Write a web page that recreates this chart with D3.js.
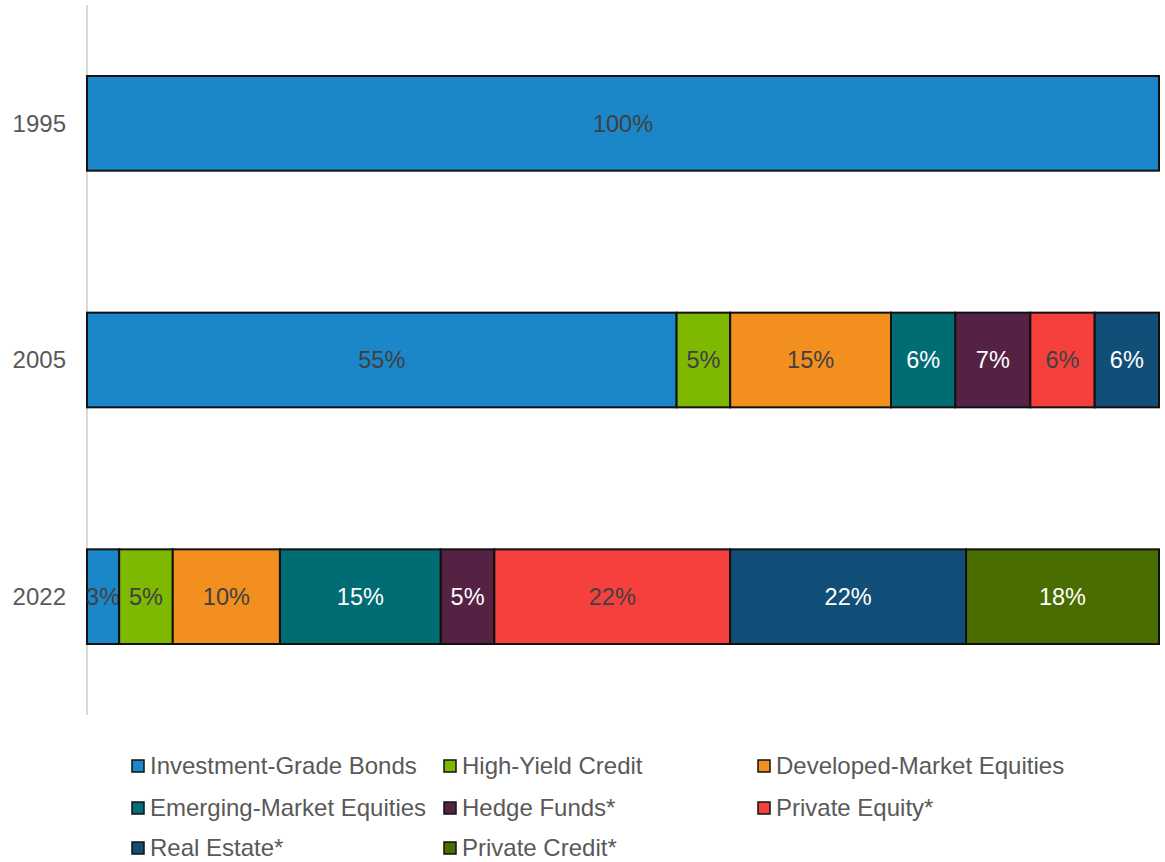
<!DOCTYPE html>
<html>
<head>
<meta charset="utf-8">
<script src="https://cdn.jsdelivr.net/npm/d3@7"></script>
<style>
  body { margin: 0; background: #fff; }
  svg { font-family: "Liberation Sans", Arial, sans-serif; }
</style>
</head>
<body>
<svg id="chart" width="1165" height="862"></svg>
<script>
// categories and series
var years = ["1995", "2005", "2022"];
var assetClasses = ["Investment-Grade Bonds", "High-Yield Credit", "Developed-Market Equities",
                    "Emerging-Market Equities", "Hedge Funds*", "Private Equity*",
                    "Real Estate*", "Private Credit*"];
var alloc1995 = [100, 0, 0, 0, 0, 0, 0, 0];
var alloc2005 = [55, 5, 15, 6, 7, 6, 6, 0];
var alloc2022 = [3, 5, 10, 15, 5, 22, 22, 18];
var xTicks = [0, 100];

var fills = ["#1b87c9", "#7fb800", "#f28f1f", "#006d75", "#552244", "#f5403d", "#124f78", "#4a6d00"];
var labelColors = ["#404040", "#404040", "#404040", "#ffffff", "#ffffff", "#404040", "#ffffff", "#ffffff"];

var svg = d3.select("#chart"),
    margin = {top: 5, right: 6, bottom: 147, left: 87},
    width = +svg.attr("width"),
    height = +svg.attr("height");

var x = d3.scaleLinear().domain(d3.extent(xTicks)).range([margin.left, width - margin.right]);
var y = d3.scaleBand().domain(years).range([margin.top, height - margin.bottom])
    .paddingInner(0.6).paddingOuter(0.3);

// build rows for stacking
var rows = [alloc1995, alloc2005, alloc2022].map(function(vals, i) {
  var r = {year: years[i]};
  assetClasses.forEach(function(k, j) { r[k] = vals[j]; });
  return r;
});
var stacked = d3.stack().keys(assetClasses)(rows);

// vertical axis line
svg.append("line")
    .attr("x1", x(0)).attr("x2", x(0))
    .attr("y1", margin.top).attr("y2", height - margin.bottom)
    .attr("stroke", "#d9d9d9").attr("stroke-width", 2);

// year labels
svg.append("g").selectAll("text")
    .data(years)
  .enter().append("text")
    .attr("x", margin.left - 21)
    .attr("y", function(d) { return y(d) + y.bandwidth() / 2; })
    .attr("dy", "0.35em")
    .attr("text-anchor", "end")
    .attr("fill", "#595959")
    .attr("font-size", "24px")
    .text(function(d) { return d; });

// bars
var series = svg.append("g").selectAll("g")
    .data(stacked)
  .enter().append("g");

series.selectAll("rect")
    .data(function(s, i) { return s.map(function(p) { return {p: p, i: i}; }); })
  .enter().filter(function(d) { return d.p[1] - d.p[0] > 0; }).append("rect")
    .attr("x", function(d) { return x(d.p[0]); })
    .attr("y", function(d) { return y(d.p.data.year); })
    .attr("width", function(d) { return x(d.p[1]) - x(d.p[0]); })
    .attr("height", y.bandwidth())
    .attr("fill", function(d) { return fills[d.i]; })
    .attr("stroke", "#111")
    .attr("stroke-width", 2);

series.selectAll("text")
    .data(function(s, i) { return s.map(function(p) { return {p: p, i: i}; }); })
  .enter().filter(function(d) { return d.p[1] - d.p[0] > 0; }).append("text")
    .attr("x", function(d) { return (x(d.p[0]) + x(d.p[1])) / 2; })
    .attr("y", function(d) { return y(d.p.data.year) + y.bandwidth() / 2; })
    .attr("dy", "0.35em")
    .attr("text-anchor", "middle")
    .attr("font-size", "23.5px")
    .attr("fill", function(d) { return labelColors[d.i]; })
    .text(function(d) { return (d.p[1] - d.p[0]) + "%"; });

// legend, 3 columns
var colX = [132, 444, 758], rowY = [766, 808, 848];
var legend = svg.append("g").selectAll("g")
    .data(assetClasses)
  .enter().append("g")
    .attr("transform", function(d, i) {
      return "translate(" + colX[i % 3] + "," + rowY[Math.floor(i / 3)] + ")";
    });

legend.append("rect")
    .attr("x", 0).attr("y", -6)
    .attr("width", 12).attr("height", 12)
    .attr("fill", function(d, i) { return fills[i]; })
    .attr("stroke", "#111").attr("stroke-width", 1.5);

legend.append("text")
    .attr("x", 18)
    .attr("dy", "0.35em")
    .attr("font-size", "24px")
    .attr("fill", "#595959")
    .text(function(d) { return d; });
</script>
</body>
</html>
